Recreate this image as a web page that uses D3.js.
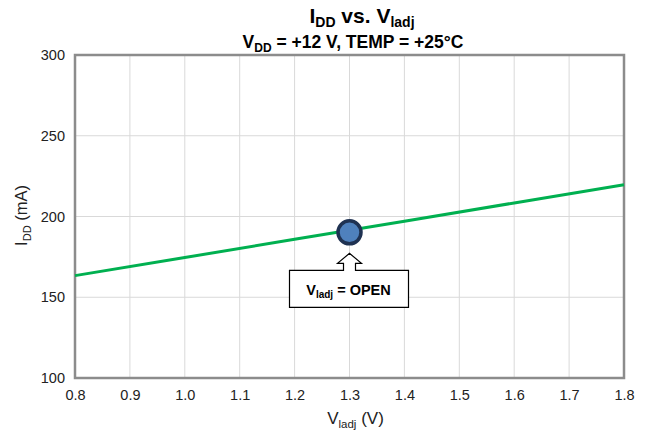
<!DOCTYPE html>
<html>
<head>
<meta charset="utf-8">
<script src="https://cdn.jsdelivr.net/npm/d3@7"></script>
<style>
  body { margin: 0; background: #fff; }
  text { font-family: "Liberation Sans", Arial, sans-serif; }
</style>
</head>
<body>
<div class="chart"></div>
<script>
const W = 647, H = 431;
const margin = ({top: 55, right: 23, bottom: 53, left: 75});
const width = W - margin.left - margin.right,
      height = H - margin.top - margin.bottom;

// data
const vadj = [0.8, 1.0, 1.2, 1.4, 1.6, 1.8];
const idd = [163.4, 174.6, 185.9, 197.1, 208.4, 219.6];
const openPoint = [1.3, 190.2];
const xTicks = [0.8, 0.9, 1.0, 1.1, 1.2, 1.3, 1.4, 1.5, 1.6, 1.7, 1.8];
const yTicks = [100, 150, 200, 250, 300];

const svg = d3.select(".chart").append("svg")
    .attr("width", W)
    .attr("height", H);

const g = svg.append("g")
    .attr("transform", "translate(" + margin.left + "," + margin.top + ")");

const x = d3.scaleLinear().domain([0.8, 1.8]).range([0, width]);
const y = d3.scaleLinear().domain([100, 300]).range([height, 0]);

// grid
g.append("g").selectAll("line")
    .data(xTicks)
    .enter().append("line")
    .attr("x1", d => x(d)).attr("x2", d => x(d))
    .attr("y1", 0).attr("y2", height)
    .attr("stroke", "#d9d9d9").attr("stroke-width", 1);
g.append("g").selectAll("line")
    .data(yTicks)
    .enter().append("line")
    .attr("x1", 0).attr("x2", width)
    .attr("y1", d => y(d)).attr("y2", d => y(d))
    .attr("stroke", "#d9d9d9").attr("stroke-width", 1);

// axes (labels only)
const xAxis = g.append("g")
    .attr("transform", "translate(0," + height + ")")
    .call(d3.axisBottom(x).tickValues(xTicks).tickFormat(d3.format(".1f")).tickSize(0).tickPadding(12));
const yAxis = g.append("g")
    .call(d3.axisLeft(y).tickValues(yTicks).tickSize(0).tickPadding(10));
[xAxis, yAxis].forEach(a => {
  a.select(".domain").remove();
  a.selectAll("text").attr("font-size", 14.5).attr("fill", "#222")
    .style("font-family", '"Liberation Sans", Arial, sans-serif');
});

// plot border
g.append("rect")
    .attr("x", 0).attr("y", 0)
    .attr("width", width).attr("height", height)
    .attr("fill", "none")
    .attr("stroke", "#8c8c8c")
    .attr("stroke-width", 2.5);

// line
const line = d3.line().x((d, i) => x(vadj[i])).y(d => y(d));
g.append("path")
    .datum(idd)
    .attr("d", line)
    .attr("fill", "none")
    .attr("stroke", "#00b050")
    .attr("stroke-width", 3);

// callout arrow + box
const px = x(openPoint[0]), py = y(openPoint[1]);
const tipY = py + 21, headY = py + 31, boxTop = py + 38, boxBot = py + 75;
const boxL = px - 60, boxR = px + 59;
g.append("path")
    .attr("d", [
      "M", boxL, boxTop, "L", px - 6, boxTop, "L", px - 6, headY,
      "L", px - 12, headY, "L", px, tipY, "L", px + 12, headY,
      "L", px + 6, headY, "L", px + 6, boxTop, "L", boxR, boxTop,
      "L", boxR, boxBot, "L", boxL, boxBot, "Z"].join(" "))
    .attr("fill", "#fff")
    .attr("stroke", "#000")
    .attr("stroke-width", 1.2);

const ct = g.append("text")
    .attr("x", px - 1).attr("y", boxTop + 25)
    .attr("text-anchor", "middle")
    .attr("font-size", 14.5).attr("font-weight", "bold");
ct.append("tspan").text("V");
ct.append("tspan").attr("font-size", 10).attr("dy", 3).text("ladj");
ct.append("tspan").attr("dy", -3).text(" = OPEN");

// marker
g.append("circle")
    .attr("cx", px).attr("cy", py)
    .attr("r", 11.5)
    .attr("fill", "#4f81bd")
    .attr("stroke", "#1f3252")
    .attr("stroke-width", 3.5);

// titles
const t1 = svg.append("text")
    .attr("x", 362).attr("y", 23)
    .attr("text-anchor", "middle")
    .attr("font-size", 21).attr("font-weight", "bold");
t1.append("tspan").text("I");
t1.append("tspan").attr("font-size", 14).attr("dy", 4).text("DD");
t1.append("tspan").attr("dy", -4).text(" vs. V");
t1.append("tspan").attr("font-size", 14).attr("dy", 4).text("ladj");

const t2 = svg.append("text")
    .attr("x", 353).attr("y", 47.5)
    .attr("text-anchor", "middle")
    .attr("font-size", 17.5).attr("font-weight", "bold");
t2.append("tspan").text("V");
t2.append("tspan").attr("font-size", 12).attr("dy", 4).text("DD");
t2.append("tspan").attr("dy", -4).text(" = +12 V, TEMP = +25°C");

// axis titles
const xt = svg.append("text")
    .attr("x", margin.left + width / 2 + 6).attr("y", 424)
    .attr("text-anchor", "middle")
    .attr("font-size", 17).attr("fill", "#222");
xt.append("tspan").text("V");
xt.append("tspan").attr("font-size", 11.5).attr("dy", 4).text("ladj");
xt.append("tspan").attr("dy", -4).text(" (V)");

const yt = svg.append("text")
    .attr("transform", "translate(27," + (margin.top + height / 2 - 1) + ") rotate(-90)")
    .attr("text-anchor", "middle")
    .attr("font-size", 16.5).attr("fill", "#222");
yt.append("tspan").text("I");
yt.append("tspan").attr("font-size", 11).attr("dy", 4).text("DD");
yt.append("tspan").attr("dy", -4).text(" (mA)");
</script>
</body>
</html>
